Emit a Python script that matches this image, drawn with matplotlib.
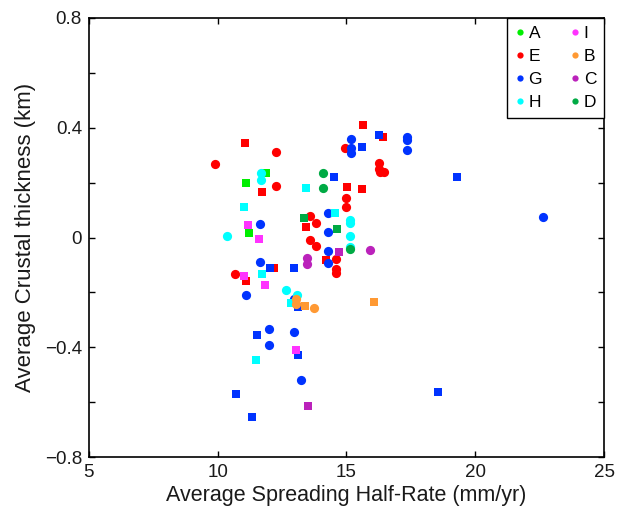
import matplotlib
matplotlib.use("Agg")
import matplotlib.pyplot as plt
from matplotlib.lines import Line2D

plt.rcParams['font.family'] = ['Liberation Sans', 'DejaVu Sans']

# groups in legend order (column-major: A,E,G,H | I,B,C,D)
names = ['A', 'E', 'G', 'H', 'I', 'B', 'C', 'D']
colors = ['#00ee00', '#ff0000', '#0033ff', '#00ffff',
          '#ff33ff', '#ff9933', '#bb22bb', '#00aa44']

# circle points per group (half-rate mm/yr, crustal thickness km)
circ_x = {
    'A': [],
    'E': [9.89, 12.26, 12.26, 14.96, 16.28, 16.28, 16.30, 16.45, 14.97, 14.97,
          13.60, 13.82, 13.60, 13.82, 14.59, 14.59, 14.59, 10.69],
    'G': [15.19, 15.19, 15.19, 17.36, 17.36, 17.36, 14.27, 14.30, 14.30, 14.30,
          11.65, 11.65, 11.10, 12.95, 11.98, 11.98, 12.98, 13.24, 22.62],
    'H': [11.68, 11.68, 15.15, 15.15, 15.15, 15.15, 10.37, 12.67, 13.08],
    'I': [],
    'B': [13.04, 13.04, 13.75],
    'C': [13.47, 13.47, 15.93],
    'D': [14.10, 14.10, 15.13],
}
circ_y = {
    'A': [],
    'E': [0.268, 0.311, 0.189, 0.325, 0.270, 0.250, 0.238, 0.238, 0.143, 0.113,
          0.078, 0.052, -0.009, -0.031, -0.078, -0.115, -0.128, -0.131],
    'G': [0.360, 0.325, 0.307, 0.368, 0.356, 0.320, 0.088, 0.019, -0.050, -0.094,
          0.048, -0.090, -0.210, -0.225, -0.333, -0.392, -0.343, -0.519, 0.075],
    'H': [0.236, 0.210, 0.065, 0.052, 0.005, -0.035, 0.006, -0.191, -0.209],
    'I': [],
    'B': [-0.225, -0.242, -0.256],
    'C': [-0.076, -0.097, -0.045],
    'D': [0.236, 0.180, -0.042],
}

# square points per group
sq_x = {
    'A': [11.87, 11.10, 11.23],
    'E': [15.66, 16.40, 11.08, 11.74, 15.03, 15.60, 13.43, 14.20, 12.19, 11.10],
    'G': [16.25, 15.60, 14.51, 19.29, 12.03, 12.95, 13.12, 11.54, 13.10, 10.70,
          11.32, 18.57],
    'H': [13.43, 14.55, 11.02, 11.74, 12.85, 11.49],
    'I': [11.17, 11.59, 11.02, 11.83, 13.06],
    'B': [13.40, 16.06],
    'C': [14.71, 13.50],
    'D': [13.36, 14.62],
}
sq_y = {
    'A': [0.236, 0.200, 0.015],
    'E': [0.410, 0.365, 0.346, 0.165, 0.185, 0.177, 0.037, -0.082, -0.110, -0.157],
    'G': [0.375, 0.331, 0.222, 0.221, -0.110, -0.112, -0.252, -0.356, -0.428, -0.571,
          -0.654, -0.564],
    'H': [0.182, 0.088, 0.110, -0.134, -0.240, -0.447],
    'I': [0.046, -0.005, -0.140, -0.173, -0.410],
    'B': [-0.248, -0.234],
    'C': [-0.052, -0.613],
    'D': [0.072, 0.031],
}

fig = plt.figure(figsize=(6.17, 5.12), dpi=100)
ax = fig.add_axes([0.144, 0.107, 0.835, 0.858])

for name, col in zip(names, colors):
    ax.scatter(sq_x[name], sq_y[name], marker='s', s=30, color=col, linewidths=0, zorder=3)
    ax.scatter(circ_x[name], circ_y[name], marker='o', s=44, color=col, linewidths=0, zorder=3)

ax.set_xlim(5, 25)
ax.set_ylim(-0.8, 0.8)
ax.set_xticks([5, 10, 15, 20, 25])
yt = [-0.8, -0.6, -0.4, -0.2, 0, 0.2, 0.4, 0.6, 0.8]
ylab = ['\u22120.8', '', '\u22120.4', '', '0', '', '0.4', '', '0.8']
ax.set_yticks(yt)
ax.set_yticklabels(ylab)

txt = '#1a1a1a'
ax.tick_params(direction='in', length=4, width=1, top=True, right=True,
               labelsize=13.5, labelcolor=txt, pad=5)
for sp in ax.spines.values():
    sp.set_linewidth(1.2)

ax.set_xlabel('Average Spreading Half-Rate (mm/yr)', fontsize=15.5, color=txt, labelpad=3)
ax.set_ylabel('Average Crustal thickness (km)', fontsize=16, color=txt, labelpad=6)

handles = [Line2D([], [], marker='o', linestyle='', markersize=4.5,
                  markerfacecolor=c, markeredgewidth=0, label=n)
           for n, c in zip(names, colors)]
leg = ax.legend(handles=handles, ncol=2, loc='upper right', bbox_to_anchor=(1, 1),
                borderaxespad=0, fancybox=False, framealpha=1, edgecolor='black',
                fontsize=12.5, handlelength=0.6, handletextpad=0.2, columnspacing=1.6,
                labelspacing=0.45, borderpad=0.45)
leg.get_frame().set_linewidth(1.0)

fig.savefig('out.png', dpi=100)
